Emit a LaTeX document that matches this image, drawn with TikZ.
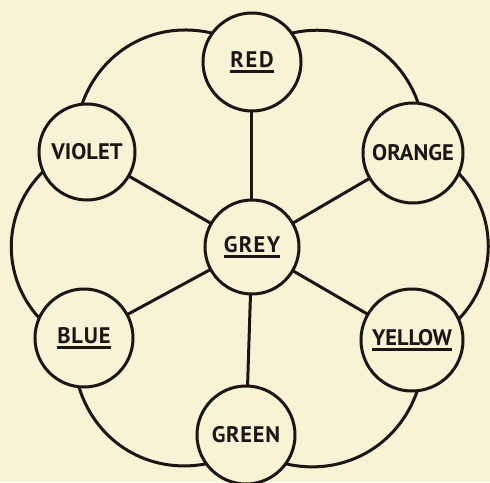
\documentclass[tikz,border=0pt]{standalone}
\usepackage{fontspec}
\setmainfont{PT Sans}
\definecolor{paper}{RGB}{247,243,214}
\definecolor{ink}{RGB}{30,20,18}
\newcommand\myul[1]{\leavevmode\vtop{\hbox{#1}\kern2.4pt\hrule height 2.8pt}}
\newcommand\lsp[1]{\addfontfeature{LetterSpace=#1}}
\begin{document}
\begin{tikzpicture}[x=1pt,y=1pt,
  hue/.style={circle,draw=ink,line width=3pt,inner sep=0pt,outer sep=0pt,fill=paper,
    font=\bfseries\fontsize{22.5}{22.5}\selectfont,text=ink},
  rim/.style={draw=ink,line width=3pt},
  spoke/.style={draw=ink,line width=3pt}]
\fill[paper] (-249,-234) rectangle (241,248);
\useasboundingbox (-249,-234) rectangle (241,248);
\node[hue,minimum size=98pt]  (red)    at (3,186)   {\lsp{8}\myul{RED}};
\node[hue,minimum size=94pt]  (grey)   at (3,1)     {\lsp{6}\myul{GREY}};
\node[hue,minimum size=96pt]  (violet) at (-162,96) {VIOLET};
\node[hue,minimum size=100pt] (orange) at (164,95)  {ORANGE};
\node[hue,minimum size=98pt]  (blue)   at (-165,-90){\lsp{4}\myul{BLUE}};
\node[hue,minimum size=102pt] (yellow) at (163,-92) {\myul{YELLOW}};
\node[hue,minimum size=98pt]  (green)  at (-3,-187) {\lsp{3}GREEN};
\draw[rim] (red.144) to[bend right=42] (violet.96);
\draw[rim] (violet.204) to[bend right=44] (blue.156);
\draw[rim] (blue.264) to[bend right=42] (green.216);
\draw[rim] (green.324) to[bend right=42] (yellow.276);
\draw[rim] (yellow.24) to[bend right=44] (orange.336);
\draw[rim] (orange.84) to[bend right=42] (red.36);
\draw[spoke] (grey) -- (red);
\draw[spoke] (grey) -- (violet);
\draw[spoke] (grey) -- (orange);
\draw[spoke] (grey) -- (blue);
\draw[spoke] (grey) -- (yellow);
\draw[spoke] (grey) -- (green);
\end{tikzpicture}
\end{document}
